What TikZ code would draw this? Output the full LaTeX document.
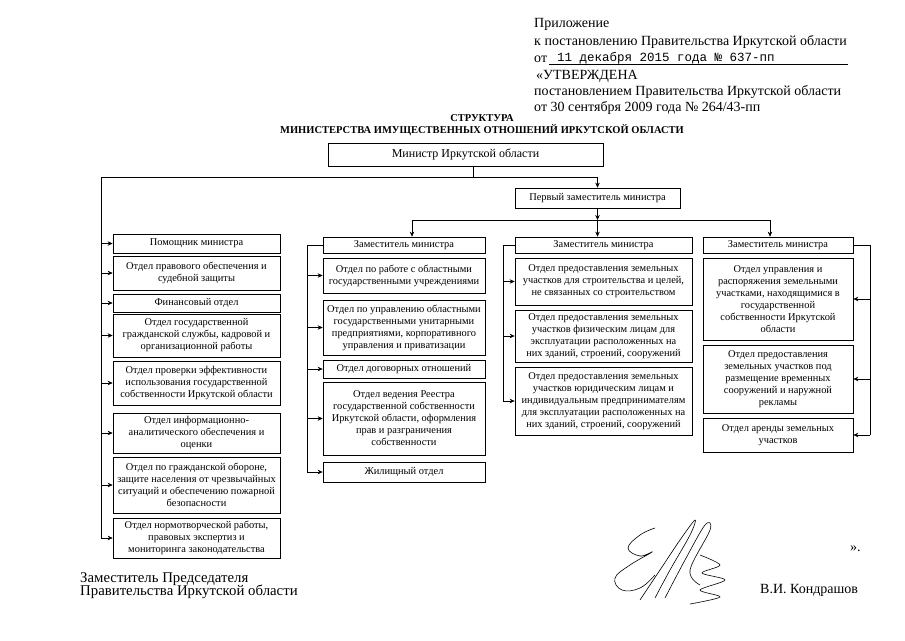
\documentclass[tikz,border=0pt]{standalone}
\usepackage{fontspec}
\setmainfont{Liberation Serif}
\newfontfamily\typedfont{Liberation Mono}
\usetikzlibrary{arrows.meta,positioning}

\tikzset{
  unit/.style={draw,line width=0.7pt,align=center,inner sep=1.5pt,
    font=\fontsize{10.4}{12}\selectfont},
  colA/.style={unit,minimum width=167pt},
  colB/.style={unit,minimum width=162pt},
  colC/.style={unit,minimum width=177pt},
  colD/.style={unit,minimum width=150pt},
  link/.style={line width=0.6pt},
  arr/.style={link,-{Stealth[length=5pt,width=4.5pt]}},
  plain/.style={font=\fontsize{14}{16}\selectfont,inner sep=0pt,anchor=base west},
}

\begin{document}
\begin{tikzpicture}[x=1pt,y=-1pt]
  \useasboundingbox (0,0) rectangle (905,640);

  % heading block
  \node[plain] (pril) at (534,27.5) {Приложение};
  \node[plain] (post) at (534,45) {к постановлению Правительства Иркутской области};
  \node[plain] (ot) at (534,62) {от};
  \node[anchor=base west,inner sep=0pt,font=\typedfont\fontsize{12.5}{14}\selectfont] (date) at (557,61) {11 декабря 2015 года № 637-пп};
  \coordinate (ul) at (848,64);
  \draw[line width=0.4pt] ([xshift=2pt]ot.base east |- ul) -- (ul);
  \node[plain] (utv) at (536,79) {«УТВЕРЖДЕНА};
  \node[plain] (post2) at (534,95.5) {постановлением Правительства Иркутской области};
  \node[plain] (ot2) at (534,111) {от 30 сентября 2009 года № 264/43-пп};

  \node[font=\bfseries\fontsize{10.5}{12}\selectfont,align=center,inner sep=0pt] (title) at (482,125)
    {СТРУКТУРА\\МИНИСТЕРСТВА ИМУЩЕСТВЕННЫХ ОТНОШЕНИЙ ИРКУТСКОЙ ОБЛАСТИ};

  % top of the tree
  \node[unit,font=\fontsize{12}{14}\selectfont,minimum width=275pt,minimum height=23pt] (min) at (465.5,154.5) {Министр Иркутской области};
  \node[unit,minimum width=165pt,minimum height=20pt] (fd) at (597.5,198) {Первый заместитель министра};

  % column A
  \node[colA,minimum height=19pt] (pom) at (196.5,243.5) {Помощник министра};
  \node[colA,minimum height=34pt] (prav) at (196.5,273) {Отдел правового обеспечения и\\судебной защиты};
  \node[colA,minimum height=18pt] (fin) at (196.5,303) {Финансовый отдел};
  \node[colA,minimum height=43pt] (kadr) at (196.5,335.5) {Отдел государственной\\гражданской службы, кадровой и\\организационной работы};
  \node[colA,minimum height=44pt] (prov) at (196.5,383) {Отдел проверки эффективности\\использования государственной\\собственности Иркутской области};
  \node[colA,minimum height=40pt] (info) at (196.5,433) {Отдел информационно-\\аналитического обеспечения и\\оценки};
  \node[colA,minimum height=56pt] (gro) at (196.5,485) {Отдел по гражданской обороне,\\защите населения от чрезвычайных\\ситуаций и обеспечению пожарной\\безопасности};
  \node[colA,minimum height=40pt] (nrm) at (196.5,538) {Отдел нормотворческой работы,\\правовых экспертиз и\\мониторинга законодательства};

  % column B
  \node[colB,minimum height=16pt] (zamB) at (404,245) {Заместитель министра};
  \node[colB,minimum height=35pt] (uchr) at (404,275.5) {Отдел по работе с областными\\государственными учреждениями};
  \node[colB,minimum height=55pt] (gup) at (404,327.5) {Отдел по управлению областными\\государственными унитарными\\предприятиями, корпоративного\\управления и приватизации};
  \node[colB,minimum height=18pt] (dog) at (404,369) {Отдел договорных отношений};
  \node[colB,minimum height=73pt] (reestr) at (404,418.5) {Отдел ведения Реестра\\государственной собственности\\Иркутской области, оформления\\прав и разграничения\\собственности};
  \node[colB,minimum height=20pt] (zhil) at (404,472) {Жилищный отдел};

  % column C
  \node[colC,minimum height=16pt] (zamC) at (603.5,245) {Заместитель министра};
  \node[colC,minimum height=47pt] (stroi) at (603.5,281.5) {Отдел предоставления земельных\\участков для строительства и целей,\\не связанных со строительством};
  \node[colC,minimum height=52pt] (fiz) at (603.5,336) {Отдел предоставления земельных\\участков физическим лицам для\\эксплуатации расположенных на\\них зданий, строений, сооружений};
  \node[colC,minimum height=68pt] (yur) at (603.5,401) {Отдел предоставления земельных\\участков юридическим лицам и\\индивидуальным предпринимателям\\для эксплуатации расположенных на\\них зданий, строений, сооружений};

  % column D
  \node[colD,minimum height=16pt] (zamD) at (778,245) {Заместитель министра};
  \node[colD,minimum height=82pt] (rasp) at (778,299) {Отдел управления и\\распоряжения земельными\\участками, находящимися в\\государственной\\собственности Иркутской\\области};
  \node[colD,minimum height=68pt] (rekl) at (778,379) {Отдел предоставления\\земельных участков под\\размещение временных\\сооружений и наружной\\рекламы};
  \node[colD,minimum height=34pt] (arend) at (778,435) {Отдел аренды земельных\\участков};

  % connectors
  \coordinate (busA) at (101,177);
  \coordinate (busB) at (412,220);
  \coordinate (busD) at (770,220);
  \draw[link] ([xshift=8pt]min.south) -- ([xshift=8pt]min.south |- busA);
  \draw[arr] (busA) -| (fd.north);
  \draw[arr] (fd.south) -- (fd.south |- busB);
  \draw[link] (busB) -- (busD);
  \draw[arr] (busB) -- (busB |- zamB.north);
  \draw[arr] (fd.south |- busB) -- (fd.south |- zamC.north);
  \draw[arr] (busD) -- (busD |- zamD.north);

  \draw[link] (busA) -- (busA |- nrm.west);
  \foreach \n in {pom,prav,fin,kadr,prov,info,gro,nrm}
    \draw[arr] (busA |- \n.west) -- (\n.west);

  \coordinate (sideB) at (307,245);
  \draw[link] (zamB.west) -- (sideB) -- (sideB |- zhil.west);
  \foreach \n in {uchr,gup,dog,reestr,zhil}
    \draw[arr] (sideB |- \n.west) -- (\n.west);

  \coordinate (sideC) at (503,245);
  \draw[link] (zamC.west) -- (sideC) -- (sideC |- yur.west);
  \foreach \n in {stroi,fiz,yur}
    \draw[arr] (sideC |- \n.west) -- (\n.west);

  \coordinate (sideD) at (870,245);
  \draw[link] (zamD.east) -- (sideD) -- (sideD |- arend.east);
  \foreach \n in {rasp,rekl,arend}
    \draw[arr] (sideD |- \n.east) -- (\n.east);

  % signature block
  \node[plain] (quote) at (850,551) {».};
  \node[plain,font=\fontsize{14.8}{13}\selectfont] (zampred) at (80,582) {Заместитель Председателя};
  \node[plain,font=\fontsize{14.8}{13}\selectfont] (prav2) at (80,595) {Правительства Иркутской области};
  \node[plain] (fio) at (760,593) {В.И. Кондрашов};

  \draw[line width=0.6pt] plot[smooth,tension=0.7] coordinates
    {(655,528) (640,535) (628,548) (640,556) (652,552) (630,565) (615,578) (622,590) (640,588) (655,575)};
  \draw[line width=0.6pt] plot[smooth,tension=0.6] coordinates
    {(640,600) (660,570) (680,540) (695,520) (690,535) (670,570) (655,598)};
  \draw[line width=0.6pt] plot[smooth,tension=0.6] coordinates
    {(665,598) (685,560) (705,525) (710,530) (690,570) (700,585)};
  \draw[line width=0.6pt] plot[smooth,tension=0.5] coordinates
    {(700,555) (720,565) (702,573) (725,580) (700,590) (720,597) (690,604)};
\end{tikzpicture}
\end{document}
